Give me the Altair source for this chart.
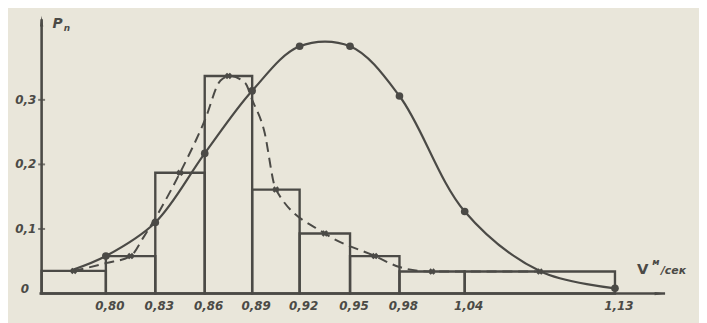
import altair as alt
import pandas as pd

# ---- data ----
edges = [0.77, 0.80, 0.83, 0.86, 0.89, 0.92, 0.95, 0.98, 1.04, 1.13]
hist_p = [0.035, 0.058, 0.187, 0.337, 0.161, 0.093, 0.058, 0.034, 0.034]
tick_labels = ["0,80", "0,83", "0,86", "0,89", "0,92", "0,95", "0,98", "1,04", "1,13"]

# crosses (x markers) on the dashed curve
cross_v = [0.785, 0.815, 0.845, 0.875, 0.905, 0.935, 0.965, 1.01, 1.085]
cross_p = [0.035, 0.058, 0.187, 0.337, 0.161, 0.093, 0.058, 0.034, 0.034]

# dashed curve, read along its path
dash_v = [0.785, 0.80, 0.815, 0.8228, 0.845, 0.86, 0.87, 0.876, 0.8856, 0.89,
          0.8975, 0.905, 0.935, 0.965, 0.98, 0.999, 1.01, 1.085]
dash_p = [0.035, 0.047, 0.058, 0.087, 0.187, 0.268, 0.330, 0.337, 0.326, 0.300,
          0.253, 0.161, 0.093, 0.058, 0.041, 0.035, 0.034, 0.034]

# solid curve, read along its path
solid_v = [0.784, 0.80, 0.83, 0.86, 0.89, 0.92, 0.95, 0.98, 1.04, 1.0856, 1.13]
solid_p = [0.036, 0.058, 0.110, 0.217, 0.314, 0.383, 0.383, 0.306, 0.127, 0.034, 0.008]

# dots on the solid curve
dot_v = [0.80, 0.83, 0.86, 0.89, 0.92, 0.95, 0.98, 1.04, 1.13]
dot_p = [0.058, 0.110, 0.217, 0.314, 0.383, 0.383, 0.306, 0.127, 0.008]

ytick_v = [0.1, 0.2, 0.3]
ytick_labels = ["0,1", "0,2", "0,3"]

INK = "#4b4a46"
BG = "#e9e6da"
FONT = "DejaVu Sans"

W, H = 699, 315
xs = alt.Scale(domain=edges,
               range=[34, 99, 149, 199, 247, 295, 346, 396, 462, 614],
               zero=False, nice=False)
ys = alt.Scale(domain=[-0.0429, 0.4395], zero=False, nice=False)

hist = pd.DataFrame({"lo": edges[:-1], "hi": edges[1:], "p": hist_p})
cross = pd.DataFrame({"v": cross_v, "p": cross_p})
dashd = pd.DataFrame({"v": dash_v, "p": dash_p})
solid = pd.DataFrame({"v": solid_v, "p": solid_p})
dots = pd.DataFrame({"v": dot_v, "p": dot_p})
xt = pd.DataFrame({"v": edges[1:], "lab": tick_labels})
yt = pd.DataFrame({"p": ytick_v, "lab": ytick_labels})


def X(f):
    return alt.X(f, scale=xs, axis=None, title=None)


def Y(f):
    return alt.Y(f, scale=ys, axis=None, title=None)


def XD(v):
    return alt.XDatum(v, scale=xs, axis=None, title=None)


def YD(v):
    return alt.YDatum(v, scale=ys, axis=None, title=None)


bars = alt.Chart(hist).mark_rect(fillOpacity=0, stroke=INK, strokeWidth=2.4).encode(
    x=X("lo:Q"), x2="hi:Q", y=Y("p:Q"), y2=alt.datum(0)
)

dashed = alt.Chart(dashd).mark_line(
    color=INK, strokeWidth=2, strokeDash=[10, 6], interpolate="monotone"
).encode(x=X("v:Q"), y=Y("p:Q"))

crosses = alt.Chart(cross).mark_point(
    shape="cross", filled=True, color=INK, size=45, angle=45, opacity=1
).encode(x=X("v:Q"), y=Y("p:Q"))

curve = alt.Chart(solid).mark_line(
    color=INK, strokeWidth=2.2, interpolate="catmull-rom"
).encode(x=X("v:Q"), y=Y("p:Q"))

dotm = alt.Chart(dots).mark_circle(color=INK, size=60, opacity=1).encode(
    x=X("v:Q"), y=Y("p:Q")
)

# axes
axis_df = pd.DataFrame({"x0": [0.769, 0.77], "x1": [1.160, 0.77],
                        "y0": [0.0, -0.001], "y1": [0.0, 0.425]})
axes = alt.Chart(axis_df).mark_rule(color=INK, strokeWidth=2.6).encode(
    x=X("x0:Q"), x2="x1:Q", y=Y("y0:Q"), y2="y1:Q"
)
arrow_up = alt.Chart(pd.DataFrame({"v": [0.77], "p": [0.422]})).mark_point(
    shape="M0,-1L0.3,1L-0.3,1Z", filled=True, color=INK, size=120, opacity=1
).encode(x=X("v:Q"), y=Y("p:Q"))
arrow_right = alt.Chart(pd.DataFrame({"v": [1.157], "p": [0.0]})).mark_point(
    shape="M1,0L-1,0.3L-1,-0.3Z", filled=True, color=INK, size=120, opacity=1
).encode(x=X("v:Q"), y=Y("p:Q"))

yticks = alt.Chart(yt).mark_tick(orient="horizontal", color=INK, size=7, thickness=2).encode(
    x=XD(0.77), y=Y("p:Q")
)

txt = dict(font=FONT, fontStyle="italic", fontWeight="bold", color=INK)
xlabels = alt.Chart(xt).mark_text(fontSize=12, baseline="middle", dx=4, **txt).encode(
    x=X("v:Q"), y=YD(-0.019), text="lab:N"
)
ylabels = alt.Chart(yt).mark_text(fontSize=12, baseline="middle", align="center", dx=-16, **txt).encode(
    x=XD(0.77), y=Y("p:Q"), text="lab:N"
)
zero_lab = alt.Chart(pd.DataFrame({"lab": ["0"]})).mark_text(
    fontSize=12, baseline="middle", align="center", dx=-17, dy=-5, **txt
).encode(x=XD(0.77), y=YD(0.0), text="lab:N")

p_lab = alt.Chart(pd.DataFrame({"lab": ["P"]})).mark_text(
    fontSize=14, baseline="middle", align="center", **txt
).encode(x=XD(0.7775), y=YD(0.418), text="lab:N")
n_lab = alt.Chart(pd.DataFrame({"lab": ["n"]})).mark_text(
    fontSize=9, baseline="middle", align="center", **txt
).encode(x=XD(0.7818), y=YD(0.411), text="lab:N")

v_lab = alt.Chart(pd.DataFrame({"lab": ["V"]})).mark_text(
    fontSize=15, baseline="middle", align="center", font=FONT, fontWeight="bold", color=INK
).encode(x=XD(1.1466), y=YD(0.0383), text="lab:N")
m_lab = alt.Chart(pd.DataFrame({"lab": ["м"]})).mark_text(
    fontSize=9, baseline="middle", align="center", **txt
).encode(x=XD(1.1545), y=YD(0.048), text="lab:N")
sek_lab = alt.Chart(pd.DataFrame({"lab": ["/сек"]})).mark_text(
    fontSize=11, baseline="middle", align="left", **txt
).encode(x=XD(1.1575), y=YD(0.035), text="lab:N")

chart = alt.layer(
    bars, dashed, crosses, curve, dotm, axes, arrow_up, arrow_right, yticks,
    xlabels, ylabels, zero_lab, p_lab, n_lab, v_lab, m_lab, sek_lab
).properties(
    width=W, height=H, background=BG, padding=0,
    autosize=alt.AutoSizeParams(type="none")
).configure_view(stroke=None)

chart.save("out.html", embed_options={"renderer": "svg", "actions": False})
